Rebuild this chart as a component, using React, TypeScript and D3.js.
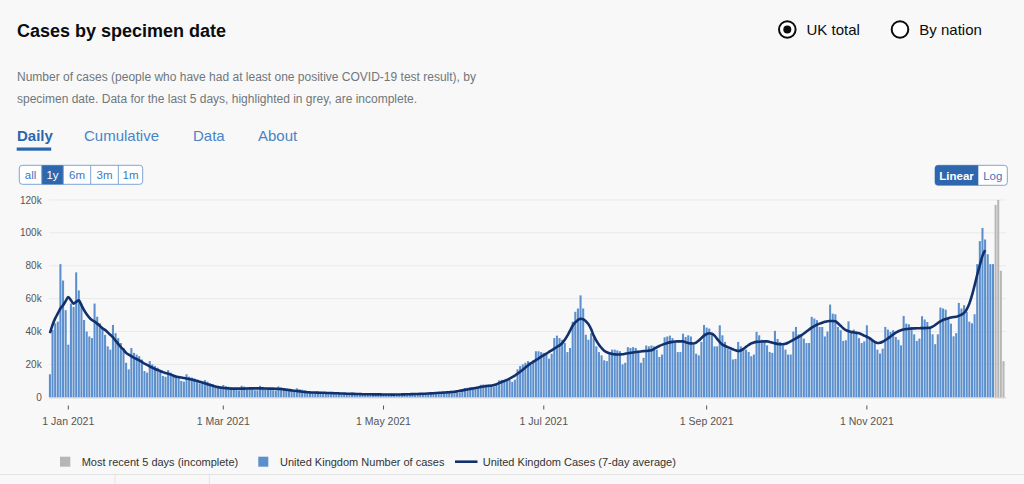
import React from 'react';
import * as d3 from 'd3';

// daily cases by specimen date, thousands, starting 25 Dec 2020
const startDate = '2020-12-25';
const dailyCases = [
  14, 41, 45,
  46, 81, 71, 53, 32, 57, 55,
  76, 65, 57, 47, 40, 37, 36,
  57, 49, 45, 42, 38, 31, 29,
  44, 39, 36, 33, 30, 21, 17,
  30, 27, 26, 25, 23, 16, 15,
  22, 20, 19, 18, 16.5, 13, 12.5,
  16.5, 15, 14, 13, 12, 10, 9.5,
  14, 12.5, 12, 11.5, 10.5, 8.5, 8.5,
  10.5, 9.5, 8.5, 8, 7, 5.7, 5.3,
  7.5, 6.8, 6.4, 6, 5.5, 4.4, 4.2,
  7, 6.5, 6, 5.7, 5.4, 4.3, 4.3,
  7, 6.3, 5.9, 5.6, 5.3, 4.3, 4.2,
  6.6, 6, 5.6, 5.3, 4.9, 3.9, 3.7,
  5.5, 4.9, 4.6, 4.3, 3.1, 2.8, 2.6,
  2.9, 3.7, 3.4, 3.2, 2.9, 2.4, 2.3,
  3.3, 3, 2.8, 2.7, 2.5, 2, 2,
  2.9, 2.6, 2.5, 2.3, 2.2, 1.8, 1.7,
  2.5, 2.3, 2.2, 2.1, 2, 1.6, 1.5,
  1.8, 2.3, 2.1, 2, 1.9, 1.6, 1.5,
  2.3, 2.2, 2.1, 2.1, 2, 1.7, 1.7,
  2.7, 2.6, 2.5, 2.4, 2.3, 1.9, 2,
  3.3, 3.3, 3.2, 3.2, 3.1, 2.7, 2.9,
  3.8, 5.6, 5.8, 6.1, 6, 5.2, 5.8,
  7.6, 7.8, 7.6, 7.7, 7.4, 6.5, 7.3,
  10.3, 10.6, 10.5, 10.8, 10.5, 9.4, 10.7,
  17, 19, 20, 21, 22, 20, 22.5,
  28, 28, 27.5, 27, 26, 23.5, 26.5,
  36, 37.5, 36, 35, 33, 27.5, 30,
  46, 52, 54, 62, 54, 38, 35,
  39, 36, 31, 27.5, 25.5, 22.5, 22,
  27, 29, 29, 28.5, 28, 20, 21,
  30.5, 30, 30.5, 30, 28, 21, 24,
  31.5, 31, 31.5, 31, 29, 24.5, 26,
  36.5, 37, 37.5, 36, 34, 27.5, 27.6,
  38.7, 36.7, 37.7, 37, 32, 26.5, 25.5,
  33.7, 44, 42.4, 41.8, 38.7, 31, 31,
  43.8, 37.7, 33.7, 29.6, 28.6, 23, 23.3,
  33.7, 31, 30, 29, 27.6, 25, 26,
  39.8, 37.7, 35, 34.7, 31.6, 27.6, 27,
  40.4, 35.5, 33.7, 31.6, 29, 26, 26,
  40, 42.8, 38.3, 38.3, 35.7, 33, 33,
  48.9, 47.9, 46.9, 42.8, 42.8, 37, 40,
  56.4, 50.9, 50.5, 42.8, 40.8, 34.3, 34.7,
  46.2, 39.8, 41.2, 40, 36, 33, 34,
  43.8, 36.7, 35.3, 33.7, 29, 26.6, 29.6,
  42.8, 41.2, 39.8, 40.8, 36.7, 35, 31.6,
  49.5, 44.8, 44.4, 42.8, 38.3, 34.3, 35.7,
  49.3, 47.3, 45.8, 42.8, 38.3, 32.3, 38.3,
  54.6, 54, 53.3, 47.9, 44.8, 37.1, 39,
  57.4, 54, 56, 52, 46, 45, 50.5,
  81, 95, 103, 96, 87, 81, 81,
];
// most recent days (incomplete), follow on from dailyCases
const incompleteCases = [117, 120, 77, 22];
// 7-day average, thousands, same start date
const averageCases = [
  39, 44, 48, 51, 54, 56, 58.5, 61, 59, 57,
  58, 59, 56, 53, 50.5, 48.5, 47, 46, 44.8, 43.5,
  42, 41, 39.5, 38, 36.5, 34.5, 32.5, 30.5, 29, 27,
  26, 25, 24, 23.3, 22.5, 21.5, 20.5, 19.7, 18.8, 18,
  17.2, 16.6, 16, 15.3, 14.8, 14.3, 13.8, 13.2, 12.6, 12.3,
  12, 11.7, 11.4, 11.1, 10.8, 10.4, 10, 9.5, 9, 8.5,
  8, 7.5, 7, 6.6, 6.2, 5.9, 5.7, 5.5, 5.4, 5.3,
  5.3, 5.3, 5.3, 5.3, 5.3, 5.35, 5.4, 5.4, 5.4, 5.4,
  5.4, 5.4, 5.35, 5.3, 5.3, 5.3, 5.2, 5.1, 5, 4.8,
  4.6, 4.4, 4.2, 4, 3.8, 3.6, 3.4, 3.2, 3.1, 3,
  2.9, 2.9, 2.8, 2.8, 2.8, 2.7, 2.6, 2.6, 2.5, 2.5,
  2.4, 2.3, 2.3, 2.2, 2.2, 2.1, 2.1, 2, 2, 1.9,
  1.9, 1.85, 1.85, 1.8, 1.8, 1.75, 1.75, 1.7, 1.7, 1.7,
  1.65, 1.65, 1.7, 1.7, 1.75, 1.8, 1.85, 1.9, 1.95, 2,
  2.05, 2.1, 2.15, 2.2, 2.3, 2.4, 2.5, 2.6, 2.7, 2.8,
  2.9, 3, 3.1, 3.2, 3.35, 3.6, 3.9, 4.2, 4.5, 4.8,
  5.1, 5.4, 5.7, 6, 6.3, 6.6, 6.8, 7, 7.1, 7.5,
  8, 8.6, 9.3, 9.9, 10.6, 11.4, 12.3, 13.2, 14.3, 15.5,
  16.8, 18.1, 19.4, 20.6, 21.6, 22.6, 23.6, 24.7, 25.7, 26.6,
  27.6, 28.6, 29.6, 30.6, 31.6, 33, 35, 37.5, 40.5, 43.5,
  45.5, 47, 47.8, 47.5, 46.3, 44.5, 41.5, 37.5, 34.5, 32,
  30, 28.3, 27.4, 26.8, 26.4, 26.1, 26, 26, 26.2, 26.5,
  26.8, 27, 27.2, 27.5, 27.7, 27.9, 28.1, 28.2, 28.4, 28.6,
  29.4, 30.3, 31.2, 31.9, 32.5, 33, 33.4, 33.7, 33.9, 34,
  34, 34, 33.5, 33, 32.8, 32.7, 33.3, 34.5, 36, 37.5,
  38.5, 39, 38.7, 37.5, 35.5, 33.5, 32, 31.3, 30.5, 29.8,
  29.2, 28.6, 28.2, 28.5, 29.5, 30.7, 31.8, 32.8, 33.4, 33.7,
  33.8, 33.9, 34, 34, 33.7, 33.2, 32.8, 32.5, 32.3, 32.3,
  32.6, 33.2, 34, 34.9, 35.8, 36.7, 37.7, 38.8, 40, 41.2,
  42.4, 43.3, 44.1, 44.8, 45.4, 45.9, 46.3, 46.4, 46.4, 46.2,
  45, 43.5, 42, 40.8, 40.2, 39.8, 39.5, 39.2, 39, 38.3,
  37.5, 36.8, 36, 34.8, 33.7, 33, 33.2, 33.8, 34.7, 35.8,
  37, 38.2, 39.3, 40.2, 40.8, 41.2, 41.5, 41.7, 41.8, 41.9,
  42, 42, 42.1, 42.1, 42.2, 42.3, 43, 44, 45.2, 46.2,
  47, 47.6, 48.1, 48.5, 48.8, 49, 49.5, 50.3, 51.3, 53.5,
  57, 62, 68, 74.5, 80.5, 86, 89.5,
];

const yTicks = [0, 20, 40, 60, 80, 100, 120];
const yTickLabels = ['0', '20k', '40k', '60k', '80k', '100k', '120k'];
const xTickDates = ['2021-01-01', '2021-03-01', '2021-05-01', '2021-07-01', '2021-09-01', '2021-11-01'];
const tabs = ['Daily', 'Cumulative', 'Data', 'About'];
const rangeButtons = ['all', '1y', '6m', '3m', '1m'];
const legendLabels = ['Most recent 5 days (incomplete)', 'United Kingdom Number of cases', 'United Kingdom Cases (7-day average)'];

const FONT = "'Liberation Sans', Arial, sans-serif";
const BLUE_BAR = '#5b8fcd';
const GREY_BAR = '#b6b6b6';
const NAVY = '#12306b';
const LINK = '#1d70b8';

const parse = d3.utcParse('%Y-%m-%d');
const fmt = d3.utcFormat('%-d %b %Y');

export default function App() {
  const start = parse(startDate) as Date;
  const dayOf = (i: number) => d3.utcDay.offset(start, i);

  const all = dailyCases.map((v, i) => ({ date: dayOf(i), value: v, grey: false }))
    .concat(incompleteCases.map((v, j) => ({ date: dayOf(dailyCases.length + j), value: v, grey: true })));

  const margin = { l: 48.6, r: 1004.8, t: 200, b: 397.3 };
  const x = d3.scaleUtc()
    .domain([d3.utcHour.offset(start, -12), d3.utcHour.offset(dayOf(all.length - 1), 12)])
    .range([margin.l, margin.r]);
  const y = d3.scaleLinear().domain([0, 120]).range([margin.b, margin.t]);
  const step = x(dayOf(1)) - x(dayOf(0));
  const bw = step * 0.78;

  const line = d3.line<number>()
    .x((d, i) => x(dayOf(i)))
    .y((d) => y(d))
    .curve(d3.curveMonotoneX);

  // range buttons edges
  const btnX = [19.3, 41.7, 63.3, 90.7, 118.3, 142.7];
  const tabX = [17, 84, 193, 258];

  return (
    <div style={{ position: 'absolute', left: 0, top: 0 }}>
      <svg width={1024} height={484} style={{ display: 'block', fontFamily: FONT }}>
        <rect width={1024} height={484} fill="#f8f8f8" />

        <text x={17} y={37} fontSize={18} fontWeight="bold" fill="#0b0c0c">Cases by specimen date</text>

        {/* radios */}
        <circle cx={787.3} cy={29.5} r={8.3} fill="#fff" stroke="#0b0c0c" strokeWidth={2} />
        <circle cx={787.3} cy={29.5} r={4} fill="#0b0c0c" />
        <text x={806.5} y={35} fontSize={15} fill="#0b0c0c">UK total</text>
        <circle cx={900} cy={29.5} r={8.3} fill="#fff" stroke="#0b0c0c" strokeWidth={2} />
        <text x={919.3} y={35} fontSize={15} fill="#0b0c0c">By nation</text>

        <text x={17} y={81} fontSize={12} fill="#6f777b">
          Number of cases (people who have had at least one positive COVID-19 test result), by
        </text>
        <text x={17} y={103} fontSize={12} fill="#6f777b">
          specimen date. Data for the last 5 days, highlighted in grey, are incomplete.
        </text>

        {tabs.map((t, i) => (
          <text key={t} x={tabX[i]} y={141} fontSize={15}
            fontWeight={i === 0 ? 'bold' : 'normal'} fill={i === 0 ? '#2a67ae' : '#4a84c6'}>{t}</text>
        ))}
        <rect x={16.7} y={147.5} width={34.5} height={3.2} fill="#2a67ae" />

        {/* range buttons */}
        <rect x={btnX[0]} y={165.3} width={btnX[5] - btnX[0]} height={19} rx={3} fill="#fff" stroke="#7ea5d6" />
        {rangeButtons.map((b, i) => (
          <g key={b}>
            {i === 1 && <rect x={btnX[1]} y={165.3} width={btnX[2] - btnX[1]} height={19} fill="#2e67ad" />}
            {i > 0 && <line x1={btnX[i]} x2={btnX[i]} y1={165.3} y2={184.3} stroke="#7ea5d6" />}
            <text x={(btnX[i] + btnX[i + 1]) / 2} y={179} fontSize={11.5} textAnchor="middle"
              fill={i === 1 ? '#fff' : '#3c78c0'}>{b}</text>
          </g>
        ))}

        {/* linear / log */}
        <rect x={935} y={165.3} width={72.3} height={20} rx={3} fill="#fff" stroke="#7ea5d6" />
        <path d="M938,165.3 H978.3 V185.3 H938 A3,3 0 0 1 935,182.3 V168.3 A3,3 0 0 1 938,165.3 Z" fill="#2e67ad" />
        <text x={956.6} y={180} fontSize={11.5} fontWeight="bold" fill="#fff" textAnchor="middle">Linear</text>
        <text x={992.8} y={180} fontSize={11.5} fill="#3c78c0" textAnchor="middle">Log</text>

        {/* grid + y axis */}
        {yTicks.map((t, i) => (
          <g key={t}>
            {t > 0 && <line x1={49} x2={1006} y1={y(t)} y2={y(t)} stroke="#e9e9e9" />}
            <text x={41.7} y={y(t) + 3.5} fontSize={10} textAnchor="end" fill="#555">{yTickLabels[i]}</text>
          </g>
        ))}

        {/* bars */}
        {all.map((d) => (
          <rect key={+d.date} x={x(d.date) - bw / 2} y={y(d.value)} width={bw}
            height={y(0) - y(d.value)} fill={d.grey ? GREY_BAR : BLUE_BAR} />
        ))}
        <line x1={49} x2={1006} y1={y(0) + 0.5} y2={y(0) + 0.5} stroke="#c8c8c8" />

        {/* 7-day average */}
        <path d={line(averageCases) || ''} fill="none" stroke={NAVY} strokeWidth={2.6} strokeLinejoin="round" />

        {/* x axis */}
        {xTickDates.map((s) => {
          const dt = parse(s) as Date;
          return (
            <g key={s}>
              <line x1={x(dt)} x2={x(dt)} y1={405.5} y2={409.5} stroke="#555" />
              <text x={x(dt)} y={424.5} fontSize={10.5} textAnchor="middle" fill="#555">{fmt(dt)}</text>
            </g>
          );
        })}

        {/* legend */}
        <rect x={60} y={456.7} width={10.3} height={10} fill={GREY_BAR} />
        <text x={81.7} y={465.5} fontSize={11} fill="#333">{legendLabels[0]}</text>
        <rect x={258.3} y={456.7} width={10} height={10} fill={BLUE_BAR} />
        <text x={280} y={465.5} fontSize={11} fill="#333">{legendLabels[1]}</text>
        <line x1={455} x2={477.5} y1={461.7} y2={461.7} stroke={NAVY} strokeWidth={2.6} />
        <text x={482.7} y={465.5} fontSize={11} fill="#333">{legendLabels[2]}</text>

        <line x1={0} x2={1024} y1={474.5} y2={474.5} stroke="#e3e3e3" />
        <line x1={115} x2={115} y1={475} y2={484} stroke="#e3e3e3" />
        <line x1={209.3} x2={209.3} y1={475} y2={484} stroke="#e3e3e3" />
      </svg>
    </div>
  );
}
